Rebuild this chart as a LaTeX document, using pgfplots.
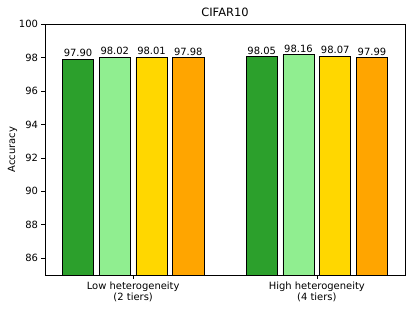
\documentclass[border=0pt]{standalone}
\usepackage{fontspec}
\setmainfont{DejaVu Sans}
\usepackage{pgfplots}
\pgfplotsset{compat=1.18}
\definecolor{cgreen}{HTML}{2CA02C}
\definecolor{clight}{HTML}{90EE90}
\definecolor{cgold}{HTML}{FFD700}
\definecolor{corange}{HTML}{FFA500}
\begin{document}
\begin{tikzpicture}
\begin{axis}[
  scale only axis,
  width=360bp, height=251bp,
  xmin=-0.48, xmax=1.48,
  ymin=85, ymax=100,
  ytick={86,88,90,92,94,96,98,100},
  xtick={0,1},
  xticklabels={{Low heterogeneity\\(2 tiers)},{High heterogeneity\\(4 tiers)}},
  xticklabel style={align=center, font=\fontsize{10}{10.5}\selectfont},
  yticklabel style={font=\fontsize{10}{12}\selectfont},
  /pgf/number format/assume math mode=true,
  tick align=outside,
  xtick pos=bottom, ytick pos=left,
  major tick length=3.5bp,
  tick style={black, line width=0.6bp},
  axis line style={black, line width=0.6bp},
  ylabel={Accuracy},
  ylabel style={font=\fontsize{10}{12}\selectfont, yshift=-5bp},
  title={CIFAR10},
  title style={font=\fontsize{11.5}{13}\selectfont, yshift=-2bp},
  ybar, bar width=0.17, bar shift=0pt,
  nodes near coords,
  point meta=explicit symbolic,
  every node near coord/.append style={font=\fontsize{10}{12}\selectfont, black, yshift=-1.5bp},
  clip=false,
]
\addplot[draw=black, line width=0.7bp, fill=cgreen] coordinates {(-0.3,97.90) [97.90] (0.7,98.05) [98.05]};
\addplot[draw=black, line width=0.7bp, fill=clight] coordinates {(-0.1,98.02) [98.02] (0.9,98.16) [98.16]};
\addplot[draw=black, line width=0.7bp, fill=cgold] coordinates {(0.1,98.01) [98.01] (1.1,98.07) [98.07]};
\addplot[draw=black, line width=0.7bp, fill=corange] coordinates {(0.3,97.98) [97.98] (1.3,97.99) [97.99]};
\end{axis}
\path[use as bounding box] ([xshift=-45bp,yshift=-36bp]current axis.south west) rectangle ([xshift=10bp,yshift=24bp]current axis.north east);
\end{tikzpicture}
\end{document}
